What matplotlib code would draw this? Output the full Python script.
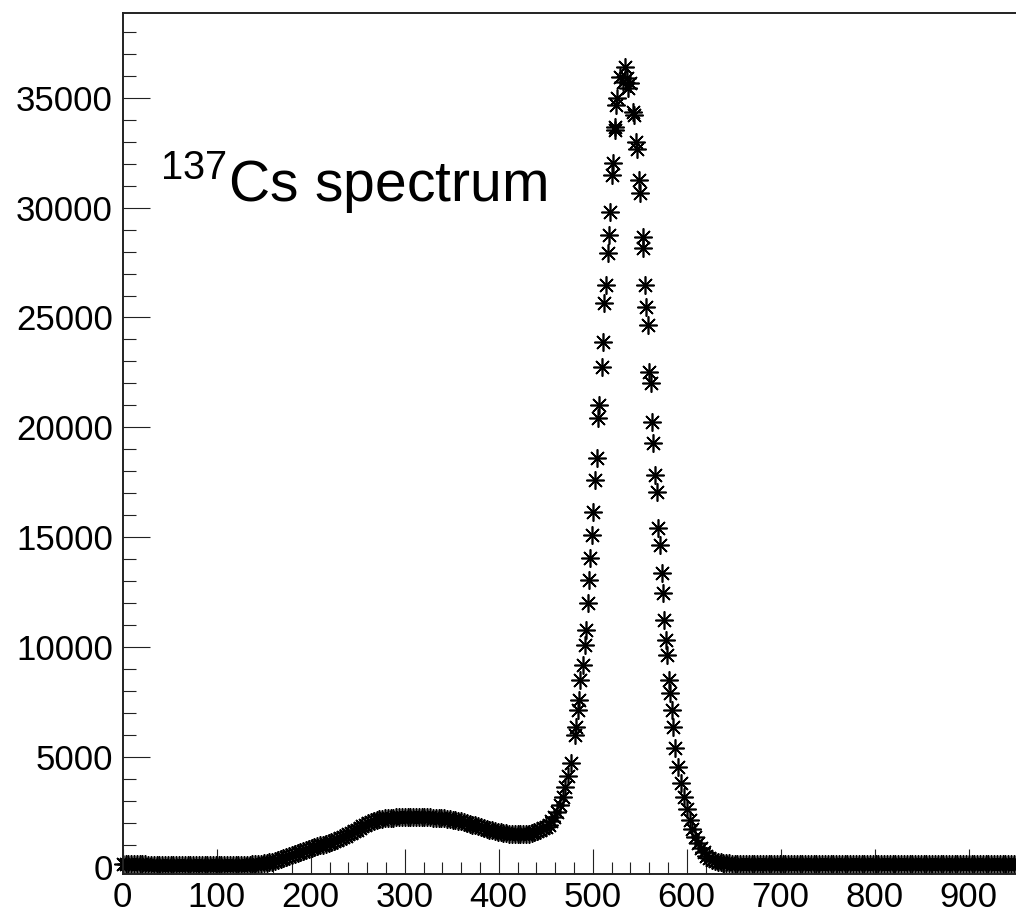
import numpy as np
import matplotlib.pyplot as plt
from matplotlib.ticker import MultipleLocator

plt.rcParams['font.family'] = ['Liberation Sans', 'DejaVu Sans']
plt.rcParams['mathtext.fontset'] = 'custom'
plt.rcParams['mathtext.rm'] = 'Liberation Sans'

# counts, low channels (every 3rd channel from 0)
counts_low = [
    130, 120, 115, 110, 110, 105, 100, 100, 95, 90, 85, 80, 75, 70,
    65, 60, 60, 55, 55, 55, 50, 50, 50, 50, 50, 50, 50, 50, 50, 50,
    50, 50, 50, 50, 50, 50, 55, 55, 55, 60, 60, 65, 70, 75, 80, 90,
    100, 110, 120, 135,
    150, 165, 185, 210, 240, 280, 330, 390, 440, 490, 530, 570, 610, 650,
    690, 740, 790, 840, 880, 920, 960, 1000, 1040, 1080, 1120, 1170, 1220,
    1280, 1330, 1400, 1460, 1530, 1600, 1680, 1760, 1840, 1910, 1980, 2040,
    2090, 2130, 2160, 2180, 2200, 2210, 2220, 2230, 2240, 2240, 2250, 2250,
    2260, 2260, 2260, 2260, 2250, 2250, 2250, 2240, 2240, 2230, 2220, 2210,
    2200, 2190, 2180, 2160, 2140, 2120, 2090, 2060, 2030, 1990, 1950, 1910,
    1870, 1830, 1790, 1750, 1710, 1670, 1640, 1610, 1580, 1550, 1530, 1510,
    1490, 1480, 1470, 1460, 1460, 1460, 1470, 1490, 1520, 1560, 1610, 1670,
    1740, 1820, 1910, 2050, 2250, 2500, 2800, 3150, 3600, 4100, 4700,
]

# photopeak points, read one by one
chan_peak = [
    481.2, 482.2, 484.0, 485.7, 486.5, 489.4, 491.8, 492.9, 494.7, 496.1,
    497.1, 498.9, 500.6, 502.4, 504.3, 505.6, 506.4, 509.6, 510.6, 512.0,
    514.1, 516.0, 517.0, 518.4, 520.8, 521.8, 523.3, 524.2, 525.1, 526.0,
    529.0, 532.6, 534.4, 536.2, 537.9, 539.7,
    542.6, 543.4, 546.1, 546.6, 549.6, 550.3, 553.2, 553.8, 555.6, 556.7,
    558.5, 560.2, 561.7, 562.8, 564.5, 566.3, 568.1, 569.8, 571.6, 573.4,
    575.1, 575.8, 577.9, 579.4, 581.5, 582.2, 584.0, 585.7,
]
counts_peak = [
    6000, 6360, 7130, 7580, 8490, 9180, 10090, 10770, 12000, 13050,
    14050, 15100, 16160, 17600, 18600, 20420, 21010, 22760, 23900, 25660,
    26480, 27940, 28760, 29800, 31490, 32040, 33540, 33680, 34680, 35000,
    35970, 35740, 36420, 35890, 35440, 35670,
    34370, 34230, 33000, 32650, 31250, 30650, 28670, 28170, 26480, 25480,
    24660, 22530, 22020, 20260, 19290, 17830, 17070, 15420, 14640, 13370,
    12460, 11230, 10320, 9630, 8490, 7900, 7130, 6350,
]

# high channels (every 3rd channel from 588)
counts_high = [
    5400, 4550, 3800, 3150, 2600, 2100, 1700, 1350, 1060, 830, 640, 500,
    390, 310, 250, 210, 185, 165, 150, 140, 135,
    135, 135, 130, 130, 130, 135, 130, 130, 130, 130, 130, 130, 130, 130,
    130, 130, 130, 130, 130, 130, 130, 130, 130, 130, 125, 125, 125, 125,
    125, 125, 125, 125, 125, 125, 125, 125, 125, 125, 125, 125, 125, 125,
    125, 125, 125, 125, 125, 125, 120, 120, 120, 120, 120, 120, 120, 120,
    120, 120, 120, 120, 120, 120, 120, 120, 120, 120, 120, 120, 120, 120,
    120, 120, 120, 120, 120, 120, 120, 120, 120, 115, 115, 115, 115, 115,
    115, 115, 115, 115, 115, 115, 115, 115, 115, 115, 115, 115, 115, 115,
    115, 115, 115, 115, 115, 115, 115, 115, 115, 115, 115, 115, 115, 115,
]

x_ticks = [0, 100, 200, 300, 400, 500, 600, 700, 800, 900]

chan_low = 3 * np.arange(len(counts_low))
chan_high = 588 + 3 * np.arange(len(counts_high))

fig = plt.figure(figsize=(10.16, 9.13), dpi=100)
ax = fig.add_axes([0.1208, 0.0427, 0.9474, 0.9431])

for cx, cy in [(chan_low, counts_low), (chan_peak, counts_peak), (chan_high, counts_high)]:
    ax.plot(cx, cy, linestyle='none', marker=(8, 2, 0), markersize=13,
            markeredgewidth=1.2, color='black', clip_on=False)

ax.set_xlim(0, 1024)
ax.set_ylim(-342, 38866)

ax.set_xticks(x_ticks)
ax.xaxis.set_minor_locator(MultipleLocator(20))
ax.yaxis.set_major_locator(MultipleLocator(5000))
ax.yaxis.set_minor_locator(MultipleLocator(1000))

ax.tick_params(axis='both', which='both', direction='in', top=False, right=False,
               width=0.8, colors='#222222', labelcolor='black', labelsize=25)
ax.tick_params(axis='x', which='major', length=18, pad=5)
ax.tick_params(axis='x', which='minor', length=8.6)
ax.tick_params(axis='y', which='major', length=19.2, pad=7)
ax.tick_params(axis='y', which='minor', length=9.4)

for side in ['left', 'bottom', 'top', 'right']:
    ax.spines[side].set_linewidth(1.4)
    ax.spines[side].set_color('#222222')

fig.text(160 / 1016, 1 - 202 / 913, r'$^{\mathregular{137}}$Cs spectrum',
         fontsize=41, ha='left', va='baseline')

fig.savefig('out.png', dpi=100)
